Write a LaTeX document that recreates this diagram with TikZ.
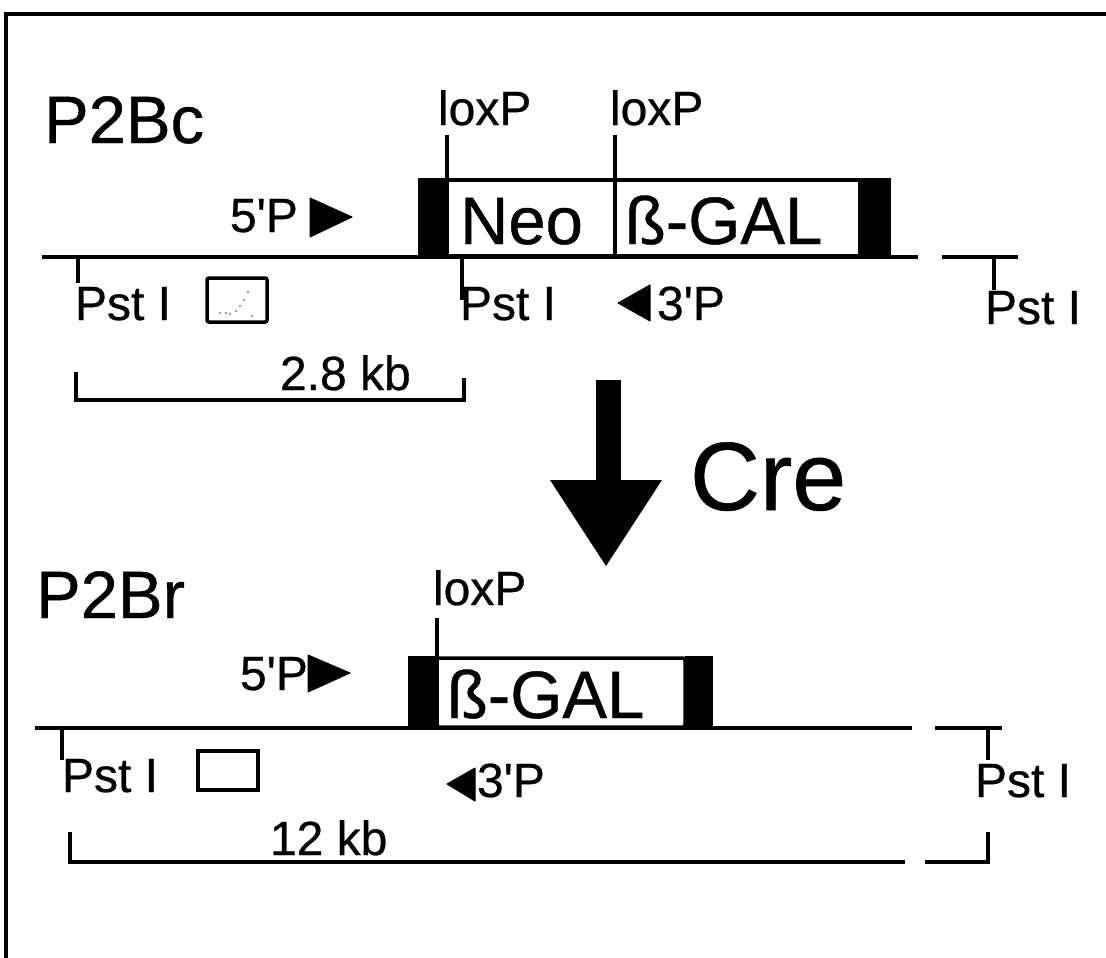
\documentclass[tikz,border=0pt]{standalone}
\usepackage{fontspec}
\setmainfont{Liberation Sans}[Ligatures=TeXOff, FakeBold=0.6]
\begin{document}
\begin{tikzpicture}[x=1pt,y=-1pt,
  txt/.style={inner sep=0pt, outer sep=0pt, anchor=base west},
  big/.style={txt, font=\fontsize{67}{67}\selectfont},
  gen/.style={txt, font=\fontsize{67}{67}\selectfont},
  lbl/.style={txt, font=\fontsize{48}{48}\selectfont},
  cre/.style={txt, font=\fontsize{97}{97}\selectfont},
  dna/.style={line width=4.2pt},
  tick/.style={line width=3.5pt},
  blk/.style={fill=black, draw=black, line width=1pt},
  genebox/.style={draw=black, fill=white, line width=3.5pt},
  tri/.style={fill=black, draw=black, line width=1pt, line join=round}]
\useasboundingbox (0,0) rectangle (1106,958);
\fill[white] (0,0) rectangle (1106,958);
% frame
\draw[line width=4pt] (1106,14) -- (6,14) -- (6,958);

% ================= top construct P2Bc =================
\node[big] (p2bc) at (44,143) {P2Bc};
\node[lbl] (lxa) at (438,125) {loxP};
\node[lbl] (lxb) at (610,125) {loxP};
\coordinate (da) at (42,257);
\coordinate (db) at (918,257);
\coordinate (dc) at (942,257);
\coordinate (dd) at (1018,257);
\draw[dna] (da) -- (db);
\draw[dna] (dc) -- (dd);
\fill[blk] (418,178) rectangle (447,257);
\fill[blk] (860,178) rectangle (890,257);
\draw[genebox] (447,180) rectangle (860,256);
\coordinate (lta) at (447,135);
\coordinate (ltb) at (615,135);
\coordinate (lba) at (447,180);
\coordinate (lbb) at (615,256);
\draw[tick] (lta) -- (lba);
\draw[tick] (ltb) -- (lbb);
\node[gen] (neo) at (460,244) {Neo};
\node[gen] (gal) at (625,244) {ß-GAL};
\node[lbl] (fp) at (230,232) {5'P};
\draw[tri] (310,198) -- (310,237) -- (352,217) -- cycle;
% Pst I sites
\coordinate (pa) at (78,257);
\coordinate (pb) at (462,257);
\coordinate (pc) at (994,257);
\node[lbl] (psa) at (75,320) {Pst I};
\node[lbl] (psb) at (460,320) {Pst I};
\node[lbl] (psc) at (985,324) {Pst I};
\draw[tick] (pa) -- (78,283);
\draw[tick] (pb) -- (462,300);
\draw[tick] (pc) -- (994,290);
% probe box
\draw[line width=3.5pt, rounded corners=2pt] (207,278) rectangle (267,322) node[midway] (prba) {};
\foreach \p in {(248,292),(244,300),(240,306),(220,313),(230,314),(236,311),(226,313),(252,316)}
  \fill[gray] \p circle (1.2pt);
% 3'P
\draw[tri] (618,303) -- (650,285) -- (650,321) -- cycle;
\node[lbl] (tpa) at (657,320) {3'P};
% bracket 2.8 kb
\node[lbl] (kba) at (280,390) {2.8 kb};
\draw[tick] (76,372) -- (76,400) -- (464,400) -- (464,378);

% ================= Cre arrow =================
\fill (596,380) rectangle (621,482);
\fill (550,480) -- (662,480) -- (606,566) -- cycle;
\node[cre] (cre) at (690,510) {Cre};

% ================= bottom construct P2Br =================
\node[big] (p2br) at (36,618) {P2Br};
\node[lbl] (lxc) at (433,605) {loxP};
\coordinate (ea) at (35,728);
\coordinate (eb) at (912,728);
\coordinate (ec) at (935,728);
\coordinate (ed) at (1002,728);
\draw[dna] (ea) -- (eb);
\draw[dna] (ec) -- (ed);
\fill[blk] (408,656) rectangle (437,728);
\fill[blk] (685,656) rectangle (712,728);
\draw[genebox, rounded corners=2pt] (437,658) rectangle (685,727);
\coordinate (ltc) at (437,618);
\coordinate (lbc) at (437,658);
\draw[tick] (ltc) -- (lbc);
\node[gen] (galb) at (447,718) {ß-GAL};
\node[lbl] (fpb) at (240,690) {5'P};
\draw[tri] (308,655) -- (308,692) -- (350,673) -- cycle;
\coordinate (pd) at (62,728);
\coordinate (pe) at (988,728);
\node[lbl] (psd) at (62,792) {Pst I};
\node[lbl] (pse) at (975,797) {Pst I};
\draw[tick] (pd) -- (62,760);
\draw[tick] (pe) -- (988,760);
\draw[line width=3.5pt] (198,751) rectangle (258,790);
\draw[tri] (447,784) -- (475,768) -- (475,801) -- cycle;
\node[lbl] (tpb) at (477,797) {3'P};
\node[lbl] (kbb) at (270,855) {12 kb};
\draw[tick] (70,832) -- (70,862) -- (905,862);
\draw[tick] (925,862) -- (988,862) -- (988,832);
\end{tikzpicture}
\end{document}
